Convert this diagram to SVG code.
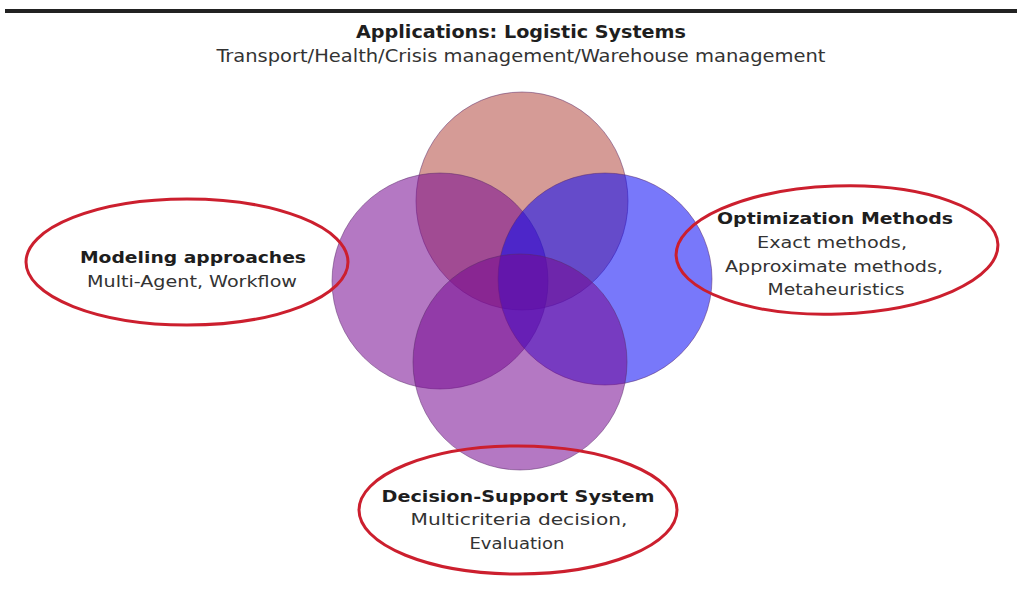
<svg xmlns="http://www.w3.org/2000/svg" width="1017" height="611" viewBox="0 0 1017 611">
<style>
.bg{fill:#ffffff}
.venn{stroke:#5a2a6a;stroke-opacity:0.5;stroke-width:1}
.ring{fill:none;stroke:#cc1f2e;stroke-width:3}
.h{font-family:"DejaVu Sans","Liberation Sans",sans-serif;font-weight:bold;font-size:16px;fill:#1e1e1e;text-anchor:middle}
.t{font-family:"DejaVu Sans","Liberation Sans",sans-serif;font-size:15px;fill:#333333;text-anchor:middle}
.th{font-family:"DejaVu Sans Condensed","DejaVu Sans","Liberation Sans",sans-serif;font-weight:bold;font-size:18px;fill:#1e1e1e;text-anchor:middle}
.tt{font-family:"DejaVu Sans Condensed","DejaVu Sans","Liberation Sans",sans-serif;font-size:17px;fill:#333333;text-anchor:middle}
</style>
<rect class="bg" x="0" y="0" width="1017" height="611"/>
<rect x="5" y="9" width="1012" height="4" fill="#222222"/>
<g id="title">
<text class="th" x="521" y="38" textLength="330" lengthAdjust="spacingAndGlyphs">Applications: Logistic Systems</text>
<text class="tt" x="521" y="62" textLength="609" lengthAdjust="spacingAndGlyphs">Transport/Health/Crisis management/Warehouse management</text>
</g>
<g id="venn">
<ellipse id="c-top" class="venn" cx="522" cy="201" rx="106" ry="109" fill="#b34940" fill-opacity="0.55"/>
<ellipse id="c-left" class="venn" cx="440" cy="281" rx="108" ry="108" fill="#770a92" fill-opacity="0.55"/>
<ellipse id="c-right" class="venn" cx="605" cy="279" rx="107" ry="106" fill="#0a0af6" fill-opacity="0.55"/>
<ellipse id="c-bottom" class="venn" cx="520" cy="362" rx="107" ry="108" fill="#770a92" fill-opacity="0.55"/>
</g>
<g id="modeling">
<ellipse class="ring" cx="187" cy="262" rx="161" ry="63"/>
<text class="h" x="193" y="263" textLength="226" lengthAdjust="spacingAndGlyphs">Modeling  approaches</text>
<text class="t" x="192" y="287" textLength="210" lengthAdjust="spacingAndGlyphs">Multi-Agent,  Workflow</text>
</g>
<g id="optimization">
<ellipse class="ring" cx="837" cy="250" rx="161" ry="64" transform="rotate(-2 837 250)"/>
<text class="h" x="835" y="224" textLength="236" lengthAdjust="spacingAndGlyphs">Optimization  Methods</text>
<text class="t" x="832" y="248" textLength="150" lengthAdjust="spacingAndGlyphs">Exact methods,</text>
<text class="t" x="834" y="272" textLength="218" lengthAdjust="spacingAndGlyphs">Approximate methods,</text>
<text class="t" x="836" y="295" textLength="137" lengthAdjust="spacingAndGlyphs">Metaheuristics</text>
</g>
<g id="decision">
<ellipse class="ring" cx="518" cy="510" rx="159" ry="64"/>
<text class="h" x="518" y="502" textLength="273" lengthAdjust="spacingAndGlyphs">Decision-Support  System</text>
<text class="t" x="519" y="525" textLength="217" lengthAdjust="spacingAndGlyphs">Multicriteria  decision,</text>
<text class="t" x="517" y="549" textLength="95" lengthAdjust="spacingAndGlyphs">Evaluation</text>
</g>
<g id="connectors"></g>
</svg>
